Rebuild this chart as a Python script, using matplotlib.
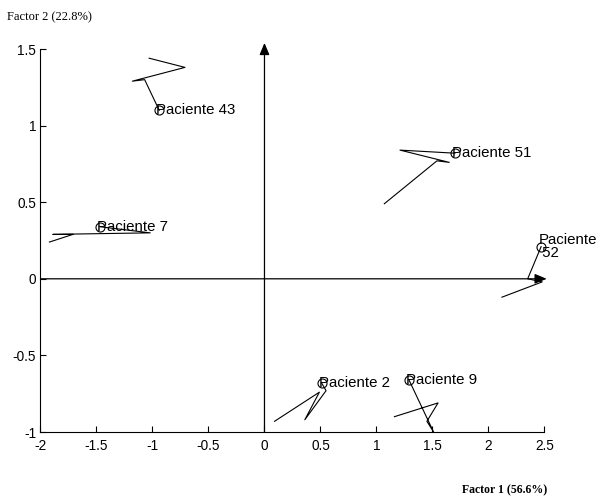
import matplotlib
matplotlib.use("Agg")
import matplotlib.pyplot as plt

# patients (last position marked with a circle)
patients = ['Paciente 43', 'Paciente 51', 'Paciente 7', 'Paciente\n 52', 'Paciente 2', 'Paciente 9']
px = [-0.94, 1.70, -1.47, 2.47, 0.51, 1.29]
py = [1.10, 0.82, 0.34, 0.21, -0.68, -0.66]

# trajectories drawn from each patient's point
traj_x = [
    [-0.94, -1.07, -1.18, -0.71, -1.03],
    [1.70, 1.21, 1.65, 1.54, 1.07],
    [-1.47, -1.02, -1.89, -1.71, -1.92],
    [2.47, 2.35, 2.48, 2.12],
    [0.51, 0.55, 0.36, 0.49, 0.09],
    [1.29, 1.51, 1.45, 1.55, 1.16],
]
traj_y = [
    [1.10, 1.30, 1.29, 1.38, 1.44],
    [0.82, 0.84, 0.76, 0.77, 0.49],
    [0.34, 0.30, 0.29, 0.29, 0.24],
    [0.21, 0.00, -0.02, -0.12],
    [-0.68, -0.73, -0.92, -0.74, -0.93],
    [-0.66, -1.00, -0.93, -0.81, -0.90],
]

xticks = [-2, -1.5, -1, -0.5, 0, 0.5, 1, 1.5, 2, 2.5]
yticks = [-1, -0.5, 0, 0.5, 1, 1.5]

plt.rcParams['font.family'] = ['Liberation Sans', 'DejaVu Sans']

fig = plt.figure(figsize=(5.98, 4.98), dpi=100)
ax = fig.add_axes([0.0677, 0.1325, 0.8428, 0.7691])

for tx, ty in zip(traj_x, traj_y):
    ax.plot(tx, ty, color='black', lw=0.8, clip_on=False)

ax.plot(px, py, 'o', mfc='none', mec='black', ms=6.5, mew=0.8, clip_on=False)

for name, x, y in zip(patients, px, py):
    ax.annotate(name, (x, y), xytext=(-2, 0), textcoords='offset points',
                ha='left', va='center', fontsize=10.8, linespacing=0.85)

# axes through the origin with arrow heads
head = '-|>,head_length=0.6,head_width=0.25'
ax.annotate('', xy=(2.52, 0), xytext=(-2, 0), annotation_clip=False,
            arrowprops=dict(arrowstyle=head, color='black', lw=0.9,
                            mutation_scale=12, shrinkA=0, shrinkB=0))
ax.annotate('', xy=(0, 1.54), xytext=(0, -1), annotation_clip=False,
            arrowprops=dict(arrowstyle=head, color='black', lw=0.9,
                            mutation_scale=12, shrinkA=0, shrinkB=0))

ax.set_xlim(-2, 2.5)
ax.set_ylim(-1, 1.5)
ax.set_xticks(xticks)
ax.set_yticks(yticks)
ax.set_xticklabels([f'{v:g}' for v in xticks])
ax.set_yticklabels([f'{v:g}' for v in yticks])
ax.tick_params(direction='in', length=4, width=0.8, labelsize=9.8)
ax.tick_params(axis='x', pad=5)
ax.tick_params(axis='y', pad=3)
ax.spines['top'].set_visible(False)
ax.spines['right'].set_visible(False)
for s in ['left', 'bottom']:
    ax.spines[s].set_linewidth(0.8)

fig.text(0.012, 0.965, 'Factor 2 (22.8%)', family='Liberation Serif', fontsize=9,
         ha='left', va='center')
fig.text(0.915, 0.016, 'Factor 1 (56.6%)', family='Liberation Serif', fontsize=8.5,
         fontweight='bold', ha='right', va='center')

fig.savefig('out.png', dpi=100)
